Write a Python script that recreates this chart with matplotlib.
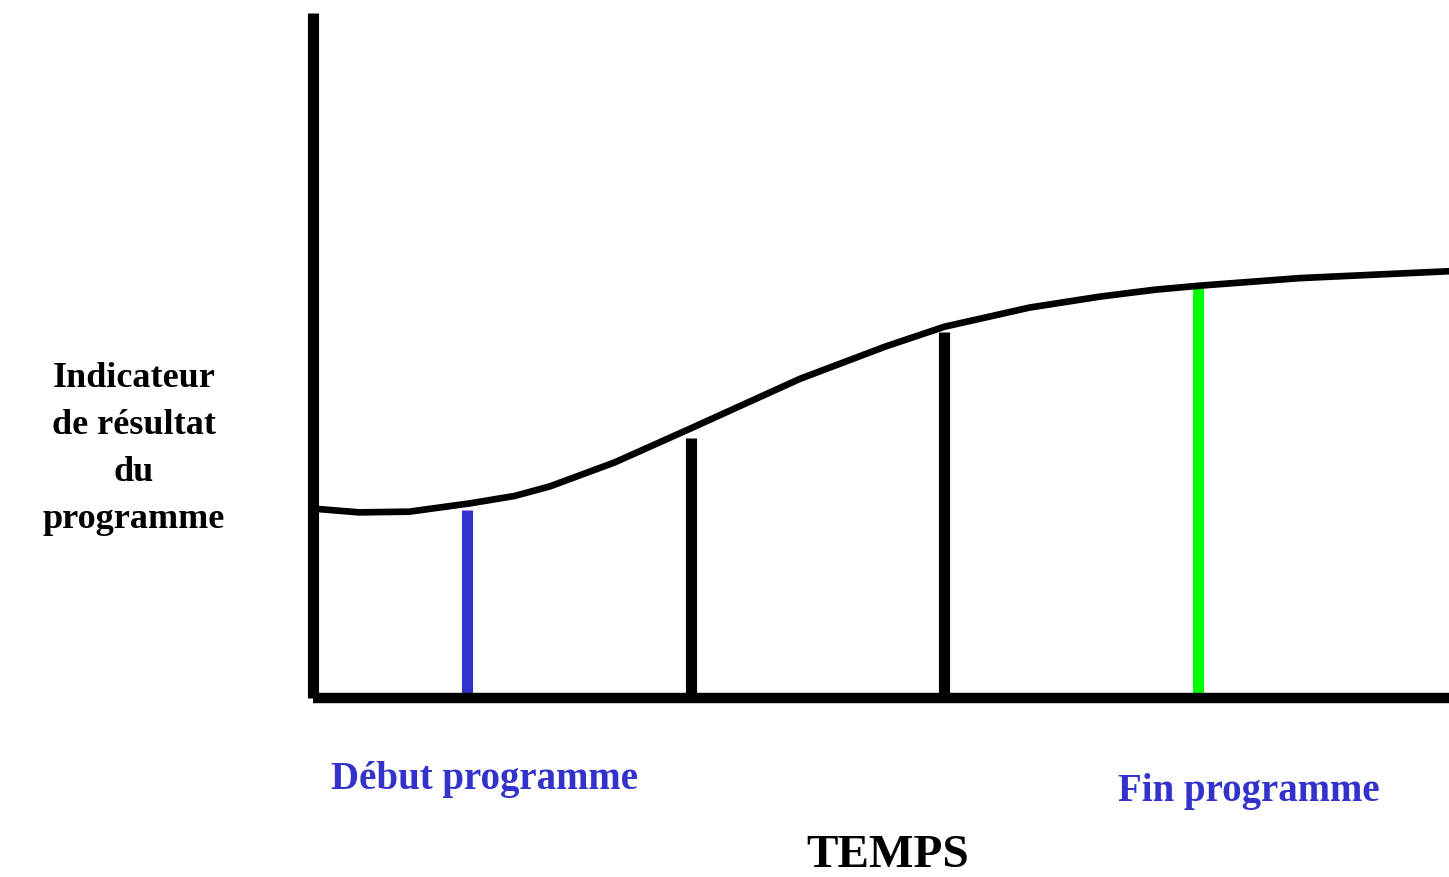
import matplotlib
matplotlib.use("Agg")
import matplotlib.pyplot as plt

# ---- data (arbitrary units: time 0..100, indicator 0..100) ----
curve_t = [0.4, 4.1, 8.5, 13.8, 17.8, 20.9, 26.6, 33.2, 42.9, 50.4, 55.6, 63.1, 69.3, 74.1, 78.1, 86.9, 100.0]
curve_v = [27.6, 27.1, 27.2, 28.4, 29.5, 30.9, 34.4, 39.3, 46.6, 51.3, 54.2, 57.0, 58.6, 59.6, 60.2, 61.3, 62.3]

marker_t = [13.6, 33.3, 55.6, 77.9]
marker_v = [27.5, 37.9, 53.5, 60.2]
marker_colors = ["#3333CC", "black", "black", "#00FF00"]

ylabel_lines = ["Indicateur", "de résultat", "du", "programme"]
start_label = "Début programme"
end_label = "Fin programme"
xlabel = "TEMPS"

W, H = 1449, 877
fig = plt.figure(figsize=(W / 100, H / 100), dpi=100)
fig.patch.set_facecolor("white")

left = 312.5 / W
bottom = (H - 698) / H
top = (H - 13) / H
ax = fig.add_axes([left, bottom, 1 - left, top - bottom])
ax.set_xlim(0, 100)
ax.set_ylim(0, 100)
ax.axis("off")

# axes lines
ax.plot([0, 0], [0, 100], color="black", lw=8, solid_capstyle="butt", clip_on=False)
ax.plot([0, 100], [0, 0], color="black", lw=7.5, solid_capstyle="butt", clip_on=False)

# curve
ax.plot(curve_t, curve_v, color="black", lw=4.8, solid_joinstyle="round", clip_on=False)

# vertical markers
for t, v, c in zip(marker_t, marker_v, marker_colors):
    ax.plot([t, t], [0, v], color=c, lw=8, solid_capstyle="butt", zorder=1)

font = ["Liberation Serif", "DejaVu Serif"]

fig.text(134 / W, 1 - 449 / H, "\n".join(ylabel_lines), ha="center", va="center",
         family=font, weight="bold", fontsize=26, linespacing=1.55, color="black")
fig.text(331 / W, 1 - 779 / H, start_label, ha="left", va="center",
         family=font, weight="bold", fontsize=28, color="#3333CC")
fig.text(1118 / W, 1 - 791 / H, end_label, ha="left", va="center",
         family=font, weight="bold", fontsize=28, color="#3333CC")
fig.text(888 / W, 1 - 856 / H, xlabel, ha="center", va="center",
         family=font, weight="bold", fontsize=34, color="black")

fig.savefig("out.png", dpi=100, facecolor="white")
